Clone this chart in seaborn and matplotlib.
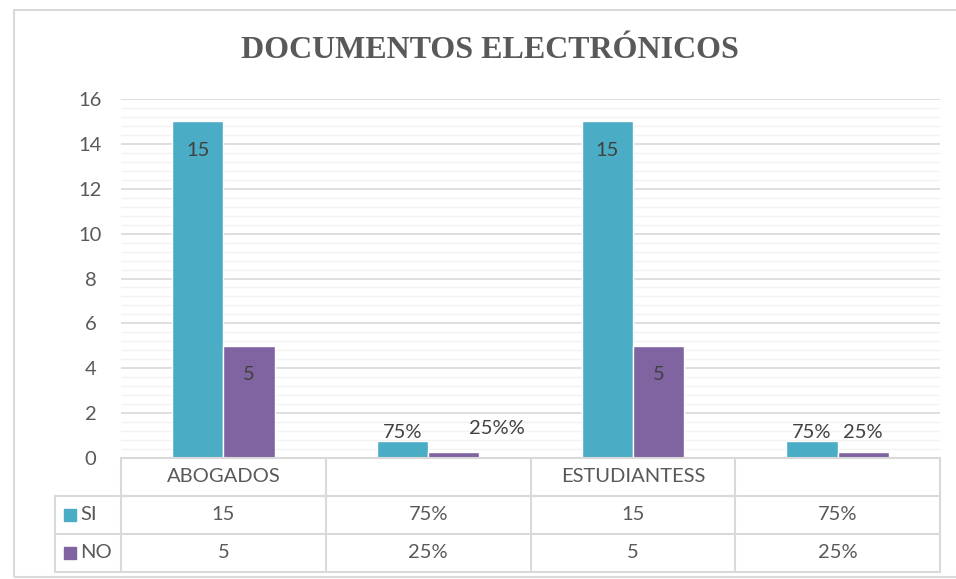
import numpy as np
import pandas as pd
import seaborn as sns
import matplotlib.pyplot as plt
from matplotlib.lines import Line2D
from matplotlib.patches import Rectangle
import matplotlib.transforms as mtransforms

# chart data
categories = ["ABOGADOS", "", "ESTUDIANTESS", ""]
series_names = ["SI", "NO"]
si_values = [15, 0.75, 15, 0.75]
no_values = [5, 0.25, 5, 0.25]
si_labels = ["15", "75%", "15", "75%"]
no_labels = ["5", "25%%", "5", "25%"]
si_table = ["15", "75%", "15", "75%"]
no_table = ["5", "25%", "5", "25%"]

SI_COLOR = "#4BACC6"
NO_COLOR = "#8064A2"
TEXT = "#595959"
GRID = "#D9D9D9"
FS = 14.5

W, H = 956, 579

sns.set_style("white")
plt.rcParams["font.family"] = ["Lato", "DejaVu Sans"]

df = pd.DataFrame(
    {
        "cat": [f"c{i}" for i in range(len(categories))] * 2,
        "serie": ["SI"] * len(si_values) + ["NO"] * len(no_values),
        "valor": si_values + no_values,
    }
)

fig = plt.figure(figsize=(W / 100, H / 100), dpi=100)
ax = fig.add_axes([121 / W, 1 - 458 / H, (940 - 121) / W, (458 - 99) / H])

sns.barplot(
    data=df,
    x="cat",
    y="valor",
    hue="serie",
    hue_order=series_names,
    palette=[SI_COLOR, NO_COLOR],
    saturation=1,
    width=0.5,
    gap=0,
    legend=False,
    ax=ax,
    zorder=3,
)

ax.set_ylim(0, 16)
ax.set_xlim(-0.5, len(categories) - 0.5)
ax.set_yticks(np.arange(0, 17, 2))
ax.set_yticks(np.arange(0, 16.01, 0.4), minor=True)
ax.grid(axis="y", which="major", color=GRID, lw=1.2, zorder=0)
ax.grid(axis="y", which="minor", color="#F2F2F2", lw=1.0, zorder=0)
ax.set_axisbelow(True)
ax.tick_params(axis="y", which="both", length=0, labelsize=FS, labelcolor=TEXT, pad=22)
for t in ax.get_yticklabels():
    t.set_horizontalalignment("center")
ax.set_xticks([])
ax.set_xlabel("")
ax.set_ylabel("")
for s in ax.spines.values():
    s.set_visible(False)

# data labels (offsets in pixels from bar top)
si_offsets = [(0, -29), (0, 9), (0, -29), (0, 9)]
no_offsets = [(0, -29), (43, 24), (0, -29), (0, 20)]
for bars, labels, offs in [
    (ax.containers[0], si_labels, si_offsets),
    (ax.containers[1], no_labels, no_offsets),
]:
    for bar, lab, off in zip(bars, labels, offs):
        ax.annotate(
            lab,
            (bar.get_x() + bar.get_width() / 2, bar.get_height()),
            xytext=off,
            textcoords="offset pixels",
            ha="center",
            va="center",
            fontsize=FS,
            color="#404040",
            zorder=5,
        )

# data table under the plot
blend = mtransforms.blended_transform_factory(ax.transData, fig.transFigure)
row_y = [458, 496, 534, 572]
fy = [1 - y / H for y in row_y]
x_edges = np.arange(len(categories) + 1) - 0.5
left_px = 55 / W

fig.add_artist(Line2D([x_edges[0], x_edges[-1]], [fy[0], fy[0]], transform=blend, color=GRID, lw=1.5))
for y in fy[1:]:
    fig.add_artist(Line2D([left_px, 940 / W], [y, y], color=GRID, lw=1.5))
for x in x_edges:
    fig.add_artist(Line2D([x, x], [fy[0], fy[-1]], transform=blend, color=GRID, lw=1.5))
fig.add_artist(Line2D([left_px, left_px], [fy[1], fy[-1]], color=GRID, lw=1.5))

for i, cat in enumerate(categories):
    for r, txt in enumerate([cat, si_table[i], no_table[i]]):
        fig.text(
            i, (fy[r] + fy[r + 1]) / 2, txt,
            transform=blend, ha="center", va="center",
            fontsize=FS, color=TEXT,
        )

for r, (name, col) in enumerate(zip(series_names, [SI_COLOR, NO_COLOR])):
    yc = (fy[r + 1] + fy[r + 2]) / 2
    fig.add_artist(Rectangle((64 / W, yc - 6 / H), 12 / W, 12 / H, color=col))
    fig.text(80 / W, yc, name, ha="left", va="center", fontsize=FS, color=TEXT)

# title and outer frame
fig.text(
    490 / W, 1 - 50 / H, "DOCUMENTOS ELECTRÓNICOS",
    ha="center", va="center", fontsize=23, fontweight="bold",
    family="Liberation Serif", color=TEXT,
)
fig.add_artist(Rectangle((14 / W, 2 / H), 1.0, 1 - 12 / H, fill=False, edgecolor=GRID, lw=1.5))

fig.savefig("out.png", dpi=100)
